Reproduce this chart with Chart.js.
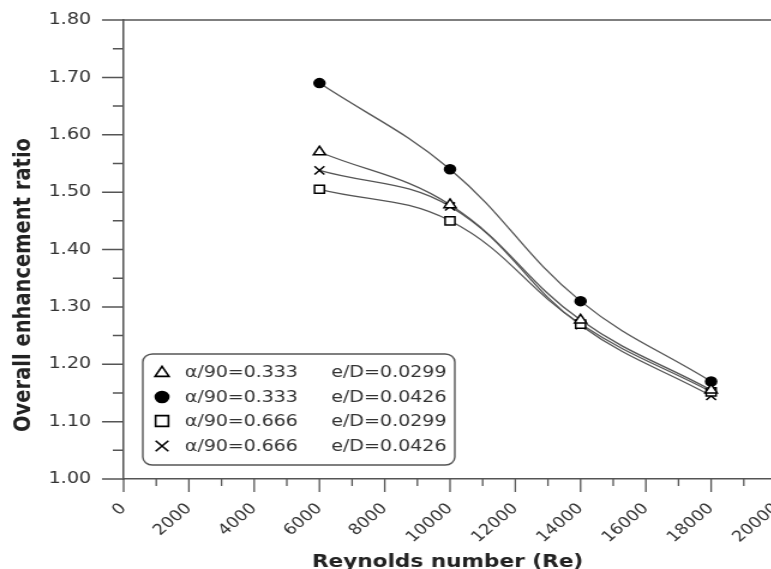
<!DOCTYPE html>
<html>
<head>
<meta charset="utf-8">
<script src="https://cdn.jsdelivr.net/npm/chart.js@4.4.0/dist/chart.umd.min.js"></script>
<style>
html, body { margin: 0; padding: 0; background: #fff; overflow: hidden; }
#wrap { width: 771px; height: 569px; overflow: hidden; }
/* the original figure is stretched sideways, so we draw narrow and widen */
#reChart { transform: scaleX(1.2); transform-origin: 0 0; }
</style>
</head>
<body>
<div id="wrap"><canvas id="reChart" width="660" height="569"></canvas></div>
<script>
// Reynolds number positions
var reynolds = [6000, 10000, 14000, 18000];

// overall enhancement ratio, one array per case
var ratioA333e0299 = [1.570, 1.478, 1.277, 1.155];
var ratioA333e0426 = [1.690, 1.540, 1.310, 1.170];
var ratioA666e0299 = [1.505, 1.450, 1.270, 1.152];
var ratioA666e0426 = [1.538, 1.475, 1.268, 1.145];

var alphaLabels = ["α/90=0.333", "α/90=0.333", "α/90=0.666", "α/90=0.666"];
var edLabels = ["e/D=0.0299", "e/D=0.0426", "e/D=0.0299", "e/D=0.0426"];
var markerStyles = ["triangle", "circle", "rect", "crossRot"];

var xTitle = "Reynolds number (Re)";
var yTitle = "Overall enhancement ratio";

var lineColor = "#555";
var axisColor = "#555";
var textColor = "#333";

function toPoints(values) {
    return reynolds.map(function(r, i) { return { x: r, y: values[i] }; });
}

function makeDataset(values, i) {
    var isCircle = markerStyles[i] == "circle";
    return {
        label: alphaLabels[i] + " " + edLabels[i],
        data: toPoints(values),
        borderColor: lineColor,
        borderWidth: 1.3,
        tension: 0.4,
        pointStyle: markerStyles[i],
        pointRadius: isCircle ? 4.5 : 5.8,
        pointBorderColor: "#000",
        pointBorderWidth: 1.5,
        pointBackgroundColor: isCircle ? "#000" : "#fff"
    };
}

function fitSpacing(ctx, text, width) {
    ctx.letterSpacing = "0px";
    var w = ctx.measureText(text).width;
    return ((width - w) / text.length) + "px";
}

var framePlugin = {
    id: "framePlugin",
    afterDraw: function(chart) {
        var ctx = chart.ctx;
        var area = chart.chartArea;
        var xs = chart.scales.x;
        var ys = chart.scales.y;
        var v, p, len;

        ctx.save();
        ctx.strokeStyle = axisColor;
        ctx.lineWidth = 1.5;

        // top / right frame
        ctx.beginPath();
        ctx.moveTo(area.left, area.top);
        ctx.lineTo(area.right, area.top);
        ctx.lineTo(area.right, area.bottom);
        ctx.stroke();

        // y ticks: major every 0.1, minor every 0.05, pointing out
        ctx.beginPath();
        for (v = 100; v <= 180; v += 5) {
            p = ys.getPixelForValue(v / 100);
            len = v % 10 === 0 ? 18 : 9;
            ctx.moveTo(area.left - len, p);
            ctx.lineTo(area.left, p);
        }
        ctx.stroke();

        // x ticks: major every 2000, minor every 1000, pointing down
        ctx.lineWidth = 1.3;
        ctx.beginPath();
        for (v = 0; v <= 20000; v += 1000) {
            p = xs.getPixelForValue(v);
            len = v % 2000 === 0 ? 13 : 7;
            ctx.moveTo(p, area.bottom);
            ctx.lineTo(p, area.bottom + len);
        }
        ctx.stroke();

        // axis titles
        ctx.fillStyle = "#222";
        ctx.textAlign = "center";
        ctx.textBaseline = "middle";
        ctx.font = "bold 19.5px 'DejaVu Sans'";
        ctx.save();
        ctx.translate(20, 285);
        ctx.rotate(-Math.PI / 2);
        ctx.fillText(yTitle, 0, 0);
        ctx.restore();

        ctx.font = "bold 18px 'DejaVu Sans'";
        ctx.textBaseline = "alphabetic";
        ctx.fillText(xTitle, 373, 567);

        // legend box
        ctx.beginPath();
        ctx.roundRect(119, 354, 260, 111, 8);
        ctx.fillStyle = "#fff";
        ctx.fill();
        ctx.lineWidth = 1.4;
        ctx.strokeStyle = "#555";
        ctx.stroke();

        ctx.font = "16px 'DejaVu Sans'";
        ctx.textAlign = "left";
        ctx.textBaseline = "middle";
        var sp1 = fitSpacing(ctx, alphaLabels[0], 94);
        var sp2 = fitSpacing(ctx, edLabels[0], 96);
        var rowY = [372, 397, 421, 446];
        var legendRadius = { triangle: 6.7, circle: 5.5, rect: 7.6, crossRot: 7.5 };
        for (var i = 0; i < alphaLabels.length; i++) {
            var isCircle = markerStyles[i] == "circle";
            ctx.letterSpacing = "0px";
            ctx.strokeStyle = "#000";
            ctx.fillStyle = isCircle ? "#000" : "#fff";
            ctx.lineWidth = 1.6;
            Chart.helpers.drawPoint(ctx, {
                pointStyle: markerStyles[i],
                radius: legendRadius[markerStyles[i]],
                rotation: 0,
                borderWidth: 1.6
            }, 135, rowY[i] + (markerStyles[i] == "triangle" ? 1 : 0));
            ctx.fillStyle = textColor;
            ctx.letterSpacing = sp1;
            ctx.fillText(alphaLabels[i], 154, rowY[i] + 1);
            ctx.letterSpacing = sp2;
            ctx.fillText(edLabels[i], 276, rowY[i] + 1);
        }
        ctx.restore();
    }
};

var ctxEl = document.getElementById("reChart").getContext("2d");

var reChart = new Chart(ctxEl, {
    type: "line",
    data: {
        datasets: [
            makeDataset(ratioA333e0299, 0),
            makeDataset(ratioA333e0426, 1),
            makeDataset(ratioA666e0299, 2),
            makeDataset(ratioA666e0426, 3)
        ]
    },
    options: {
        responsive: false,
        animation: false,
        layout: { padding: { top: 20, right: 13, left: 0, bottom: 0 } },
        plugins: {
            legend: { display: false },
            tooltip: { enabled: false }
        },
        scales: {
            x: {
                type: "linear",
                min: 0,
                max: 20000,
                afterFit: function(scale) {
                    scale.height = 90;
                    scale.paddingLeft = 0;
                    scale.paddingRight = 0;
                },
                grid: { display: false, drawTicks: false },
                border: { display: true, color: axisColor, width: 1.5 },
                ticks: {
                    stepSize: 2000,
                    minRotation: 45,
                    maxRotation: 45,
                    padding: 21,
                    color: textColor,
                    font: { family: "'DejaVu Sans'", size: 15 },
                    callback: function(value) { return String(value); }
                }
            },
            y: {
                min: 1.0,
                max: 1.8,
                afterFit: function(scale) {
                    scale.width = 103;
                    scale.paddingTop = 0;
                    scale.paddingBottom = 0;
                },
                grid: { display: false, drawTicks: false },
                border: { display: true, color: axisColor, width: 1.5 },
                ticks: {
                    stepSize: 0.1,
                    padding: 27,
                    color: textColor,
                    font: { family: "'DejaVu Sans'", size: 16 },
                    callback: function(value) { return value.toFixed(2); }
                }
            }
        }
    },
    plugins: [framePlugin]
});
</script>
</body>
</html>
